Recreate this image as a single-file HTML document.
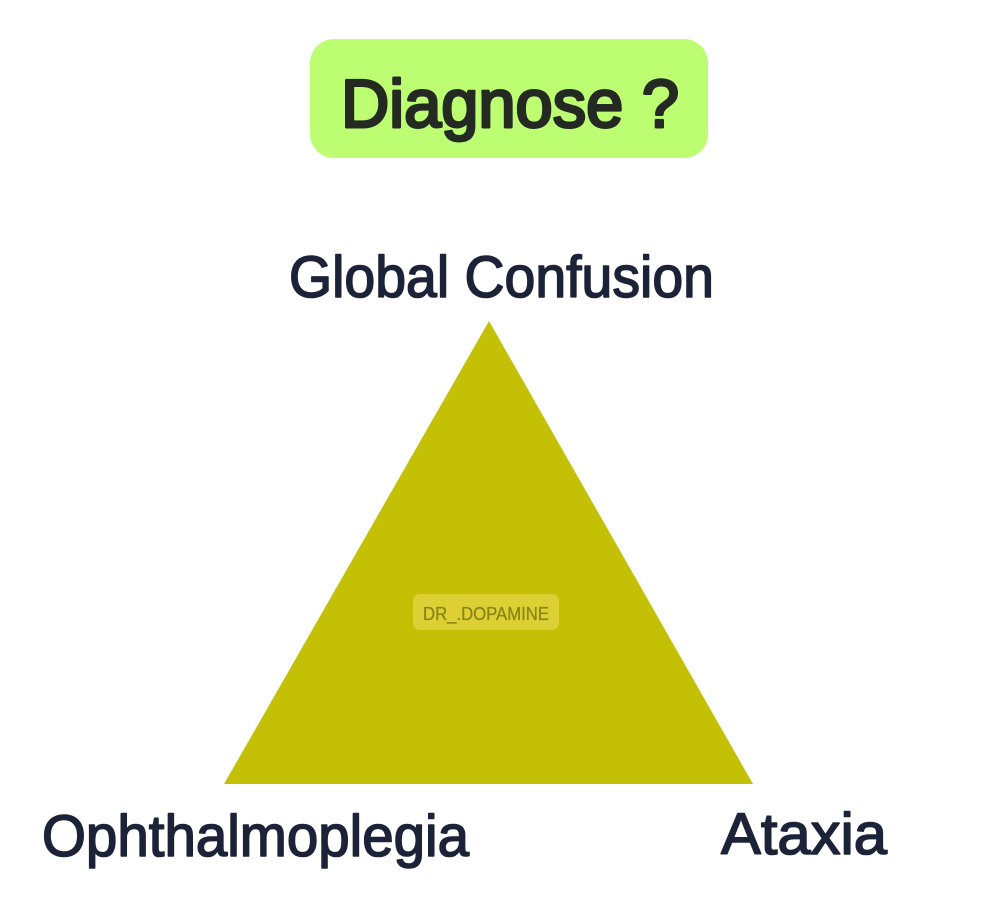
<!DOCTYPE html>
<html>
<head>
<meta charset="utf-8">
<title>Diagnose ?</title>
<style>
html,body{margin:0;padding:0;background:#fff;width:992px;height:900px;overflow:hidden}
svg{display:block}
text{font-family:"Liberation Sans",sans-serif;stroke-linejoin:round;stroke-linecap:round}
</style>
</head>
<body>
<svg width="992" height="900" viewBox="0 0 992 900" xmlns="http://www.w3.org/2000/svg">
<rect width="992" height="900" fill="#ffffff"/>
<rect x="310" y="39" width="398" height="119" rx="24" ry="24" fill="#bdfd72"/>
<text x="341" y="127" font-size="68" fill="#242a22" stroke="#242a22" stroke-width="3" textLength="338" lengthAdjust="spacingAndGlyphs">Diagnose ?</text>
<text x="289" y="297" font-size="58" fill="#1c2338" stroke="#1c2338" stroke-width="1.6" textLength="425" lengthAdjust="spacingAndGlyphs">Global Confusion</text>
<polygon points="489,321 753,784 224,784" fill="#c3c006"/>
<rect x="413" y="594" width="146" height="36" rx="7" ry="7" fill="#dcd035"/>
<text x="423" y="620" font-size="18" fill="#8a8412" stroke="#8a8412" stroke-width="0.3" textLength="126" lengthAdjust="spacingAndGlyphs">DR_.DOPAMINE</text>
<text x="42" y="856" font-size="58" fill="#1c2338" stroke="#1c2338" stroke-width="1.6" textLength="427" lengthAdjust="spacingAndGlyphs">Ophthalmoplegia</text>
<text x="721" y="854" font-size="58" fill="#1c2338" stroke="#1c2338" stroke-width="1.6" textLength="166" lengthAdjust="spacingAndGlyphs">Ataxia</text>
</svg>
</body>
</html>
